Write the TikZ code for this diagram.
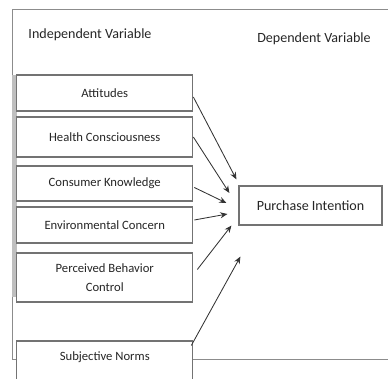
\documentclass[tikz,border=0pt]{standalone}
\usepackage{fontspec}
\setmainfont{Carlito}
\usetikzlibrary{arrows.meta, positioning, calc}

\begin{document}
\begin{tikzpicture}[
    x=0.025cm, y=-0.025cm,
    box/.style={rectangle, draw=black!55, thick, fill=white, minimum width=4.4cm, inner sep=1pt, align=center, font=\fontsize{9}{11}\selectfont, text=black!85},
    heading/.style={font=\normalsize, text=black!85},
    arrow/.style={-{Stealth[length=1.8mm, width=1.5mm]}, semithick, black!80},
    frame/.style={draw=black!45, semithick}
]
\clip (0,0) rectangle (388,379);

% Outer frame and shadow strip
\draw[frame] (395,9.5) -- (12.5,9.5) -- (12.5,359) -- (395,359);
\fill[black!25] (12,75) rectangle (16.5,297);

% Headings
\node[heading] (iv) at (90,35) {Independent Variable};
\node[heading] (dv) at (314,39) {Dependent Variable};

% Independent variables
\node[box, minimum height=0.9cm] (att) at (104.75,93) {Attitudes};
\node[box, minimum height=1.0cm] (hc) at (104.75,137) {Health Consciousness};
\node[box, minimum height=0.875cm] (ck) at (104.75,183.5) {Consumer Knowledge};
\node[box, minimum height=0.9cm] (ec) at (104.75,225) {Environmental Concern};
\node[box, minimum height=1.225cm] (pbc) at (104.75,277.5) {Perceived Behavior\\[3pt]Control};
\node[box, minimum height=1.65cm] (sn) at (104.75,374) {Subjective Norms\\[15pt]\mbox{}};

% Dependent variable
\node[box, minimum width=3.575cm, minimum height=0.975cm, font=\normalsize] (pi) at (310.5,205.5) {Purchase Intention};

% Arrows
\draw[arrow] ($(att.east)+(0,4)$) -- ($(pi.north west)+(-2,-6)$);
\draw[arrow] (hc.east) -- ($(pi.west)+(-9,-12.5)$);
\draw[arrow] ($(ck.east)+(1,4)$) -- ($(pi.west)+(-12,-2.5)$);
\draw[arrow] ($(ec.east)+(1,-5)$) -- ($(pi.west)+(-11,8.5)$);
\draw[arrow] ($(pbc.east)+(4,-8)$) -- ($(pi.south west)+(-7,0)$);
\draw[arrow] ($(sn.north east)+(-2,5)$) -- ($(pi.south west)+(2,31)$);

\end{tikzpicture}
\end{document}
